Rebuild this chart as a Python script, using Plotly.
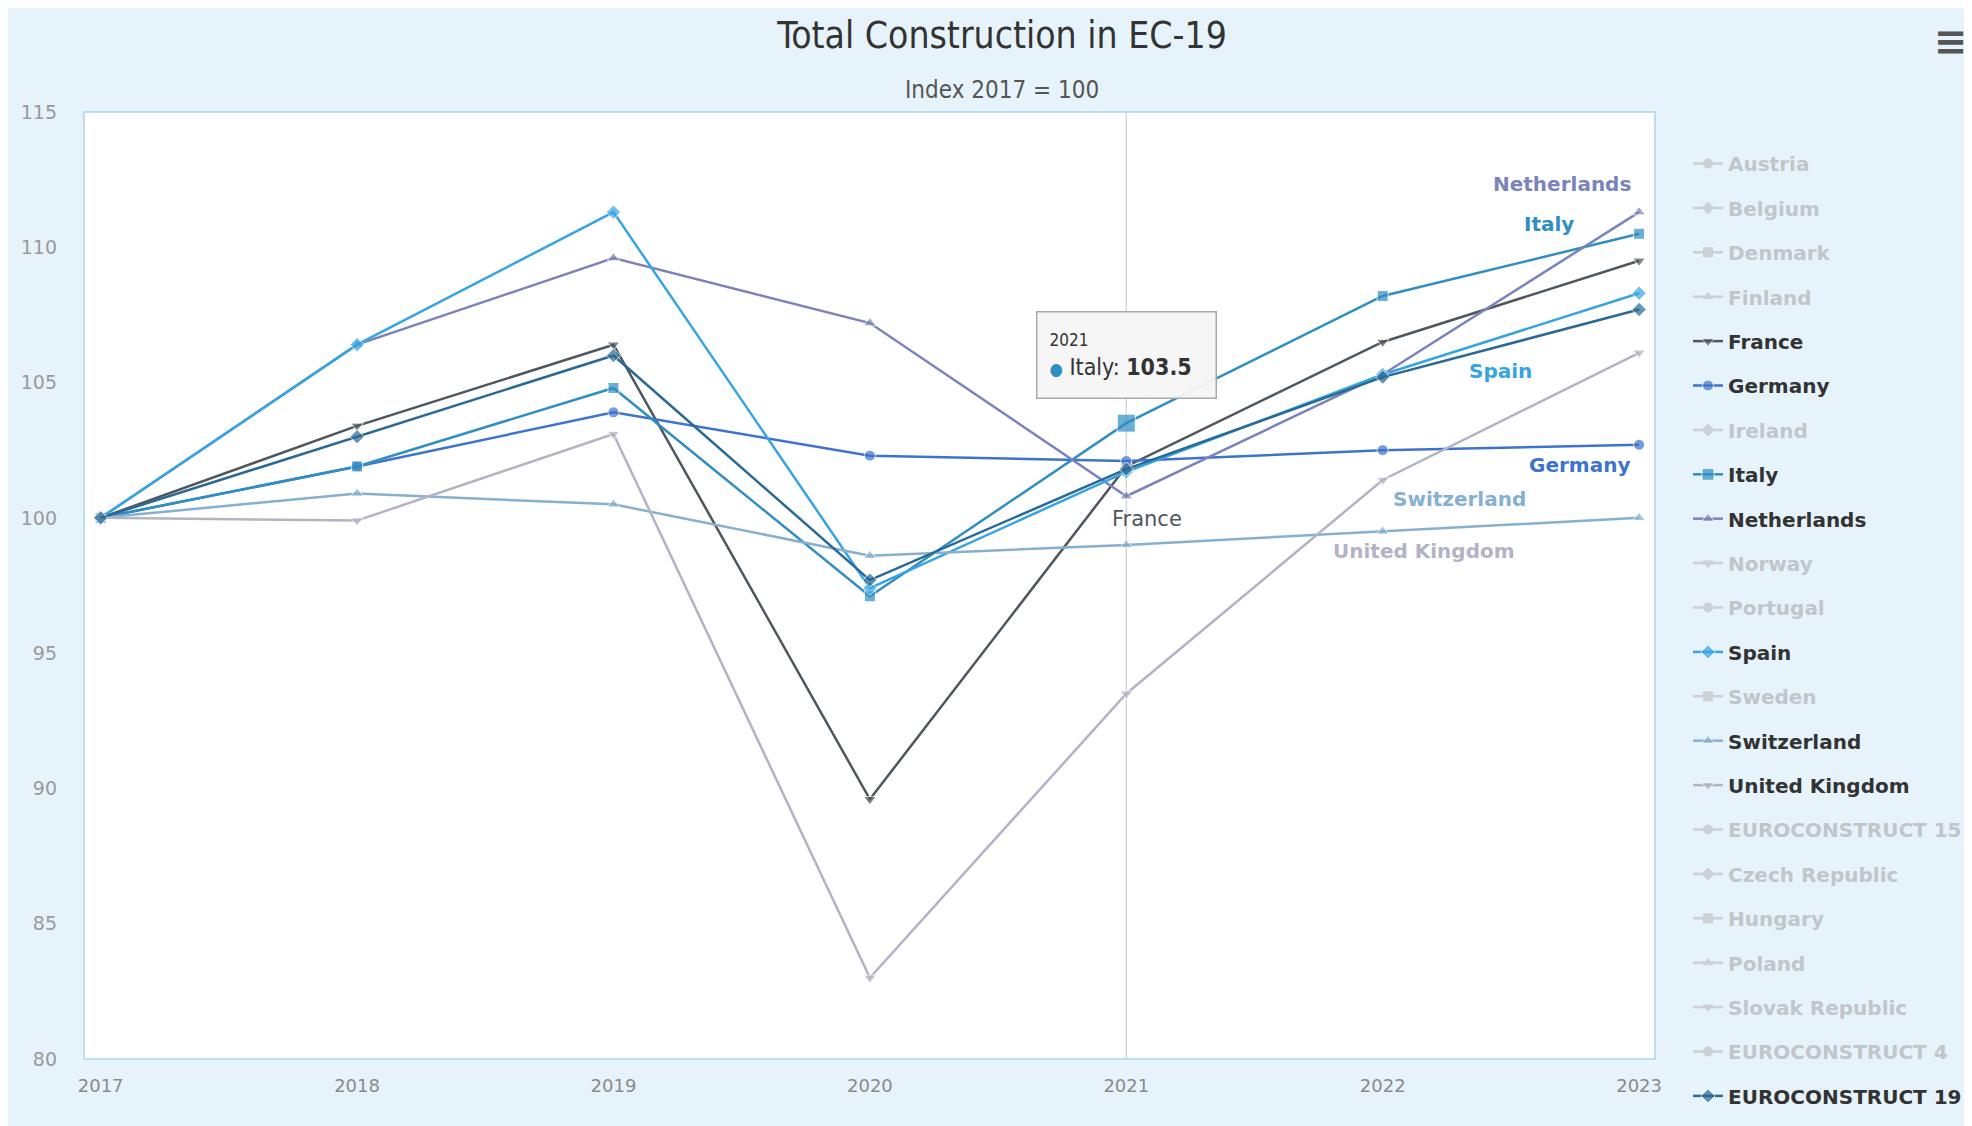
import plotly.graph_objects as go

# ---------------- data ----------------
years = ["2017", "2018", "2019", "2020", "2021", "2022", "2023"]

france = [100, 103.4, 106.4, 89.6, 101.9, 106.5, 109.5]
germany = [100, 101.9, 103.9, 102.3, 102.1, 102.5, 102.7]
italy = [100, 101.9, 104.8, 97.1, 103.5, 108.2, 110.5]
netherlands = [100, 106.4, 109.6, 107.2, 100.8, 105.3, 111.3]
spain = [100, 106.4, 111.3, 97.4, 101.7, 105.3, 108.3]
switzerland = [100, 100.9, 100.5, 98.6, 99.0, 99.5, 100.0]
united_kingdom = [100, 99.9, 103.1, 83.0, 93.5, 101.4, 106.1]
euroconstruct_19 = [100, 103.0, 106.0, 97.7, 101.8, 105.2, 107.7]

series_names = ["Austria", "Belgium", "Denmark", "Finland", "France", "Germany",
                "Ireland", "Italy", "Netherlands", "Norway", "Portugal", "Spain",
                "Sweden", "Switzerland", "United Kingdom", "EUROCONSTRUCT 15",
                "Czech Republic", "Hungary", "Poland", "Slovak Republic",
                "EUROCONSTRUCT 4", "EUROCONSTRUCT 19"]

visible_values = {
    "France": france,
    "Germany": germany,
    "Italy": italy,
    "Netherlands": netherlands,
    "Spain": spain,
    "Switzerland": switzerland,
    "United Kingdom": united_kingdom,
    "EUROCONSTRUCT 19": euroconstruct_19,
}

hover_year = "2021"
hover_series = "Italy"

# ---------------- styles ----------------
colors = {
    "France": "#4f565e",
    "Germany": "#3d73cf",
    "Italy": "#2f8ec2",
    "Netherlands": "#7b83bd",
    "Spain": "#36a4e2",
    "Switzerland": "#86b0d0",
    "United Kingdom": "#b3b3c6",
    "EUROCONSTRUCT 19": "#2a6995",
}
symbols_cycle = ["circle", "diamond", "square", "triangle-up", "triangle-down"]

FONT_C = "DejaVu Sans Condensed, DejaVu Sans, sans-serif"
FONT = "DejaVu Sans, sans-serif"

W, H = 1964, 1118
L, R, T, B = 76, 317, 104, 67
PW, PH = W - L - R, H - T - B

fig = go.Figure()
hi = years.index(hover_year)
for i, name in enumerate(series_names):
    sym = symbols_cycle[i % 5]
    if name in visible_values:
        vals = visible_values[name]
        sizes = [11] * len(vals)
        if name == hover_series:
            sizes[hi] = 18
        fig.add_trace(go.Scatter(
            x=years, y=vals, name=name, mode="lines+markers",
            legendgroup=name,
            line=dict(color=colors[name], width=2.5),
            marker=dict(symbol=sym, size=sizes, color=colors[name]),
            hoverinfo="skip",
        ))
    else:
        fig.add_trace(go.Scatter(
            x=years, y=[None] * len(years), mode="lines+markers",
            name="<span style='color:#9a9a9a'>" + name + "</span>",
            legendgroup=name, visible="legendonly",
            line=dict(color="#b0b0b0", width=2.5),
            marker=dict(symbol=sym, size=10, color="#b0b0b0"),
        ))

# crosshair at hovered category
fig.add_shape(type="line", xref="x", yref="paper", x0=hi, x1=hi, y0=0, y1=1,
              line=dict(color="#cfcfcf", width=1.2), layer="below")
# plot border
fig.add_shape(type="rect", xref="paper", yref="paper", x0=0, x1=1, y0=0, y1=1,
              line=dict(color="#a8d6f2", width=1.5), layer="above")

# series labels (placed relative to series points)
def series_label(name, idx, xanchor, xshift, yshift, bold=True, size=20):
    txt = "<b>%s</b>" % name if bold else name
    fig.add_annotation(x=idx, y=visible_values[name][idx], xref="x", yref="y",
                       text=txt, showarrow=False, xanchor=xanchor, yanchor="middle",
                       xshift=xshift, yshift=yshift,
                       font=dict(family=FONT, size=size, color=colors[name]))

series_label("Netherlands", 6, "right", -6, 28)
series_label("Italy", 6, "right", -63, 10)
series_label("Spain", 6, "right", -105, -78)
series_label("Germany", 6, "right", -7, -20)
series_label("Switzerland", 5, "left", 8, 32)
series_label("United Kingdom", 5, "center", 41, -71)
series_label("France", 4, "left", -16, -53, bold=False, size=21)

# tooltip
hv = visible_values[hover_series][hi]
fig.add_annotation(
    x=hi, y=hv, xref="x", yref="y", showarrow=False,
    xanchor="center", yanchor="bottom", yshift=24, align="left", valign="middle",
    width=154, height=61,
    text=("<span style='font-size:17px;color:#333'>%s</span><br>"
          "<span style='color:%s;font-size:17px'>●</span> %s: <b>%.1f</b>")
         % (hover_year, colors[hover_series], hover_series, hv),
    font=dict(family=FONT_C, size=23, color="#333333"),
    bgcolor="rgba(246,246,246,0.95)", bordercolor="#a9a9a9", borderwidth=1.5,
    borderpad=12,
)

# menu icon
fig.add_annotation(xref="paper", yref="paper", x=(1962 - L) / PW, y=(H - B - 33) / PH,
                   xanchor="right", yanchor="middle",
                   text="<b>≡</b>", showarrow=False,
                   font=dict(family="DejaVu Sans", size=40, color="#555"))

# subtitle
fig.add_annotation(xref="paper", yref="paper", x=(994 - L) / PW, y=(H - B - 82) / PH,
                   text="Index 2017 = 100", showarrow=False, yanchor="middle",
                   font=dict(family=FONT_C, size=24, color="#555555"))

fig.update_layout(
    width=W, height=H,
    margin=dict(l=L, r=R, t=T, b=B, autoexpand=False),
    paper_bgcolor="#e7f3fb",
    plot_bgcolor="#ffffff",
    title=dict(text="Total Construction in EC-19", x=994 / W, xanchor="center",
               y=1 - 27 / H, yanchor="middle",
               font=dict(family=FONT_C, size=37, color="#333333")),
    showlegend=True,
    legend=dict(xref="container", yref="container",
                x=1680 / W, xanchor="left", y=1 - 136 / H, yanchor="top",
                font=dict(family=FONT, size=20, color="#333333", weight="bold"),
                tracegroupgap=15.4, bgcolor="rgba(0,0,0,0)", itemwidth=30,
                maxheight=1100),
    hovermode=False,
)

fig.update_xaxes(type="category", range=[-0.065, 6.062], showgrid=False, zeroline=False,
                 showline=False, ticks="", tickfont=dict(family="DejaVu Sans", size=18, color="#8a8a8a"),
                 ticklabelstandoff=14)
fig.update_yaxes(range=[80, 115], dtick=5, showgrid=False, zeroline=False, showline=False,
                 ticks="", tickfont=dict(family="DejaVu Sans", size=19, color="#9a9a9a"),
                 ticklabelstandoff=26)

fig.write_html("out.html")
